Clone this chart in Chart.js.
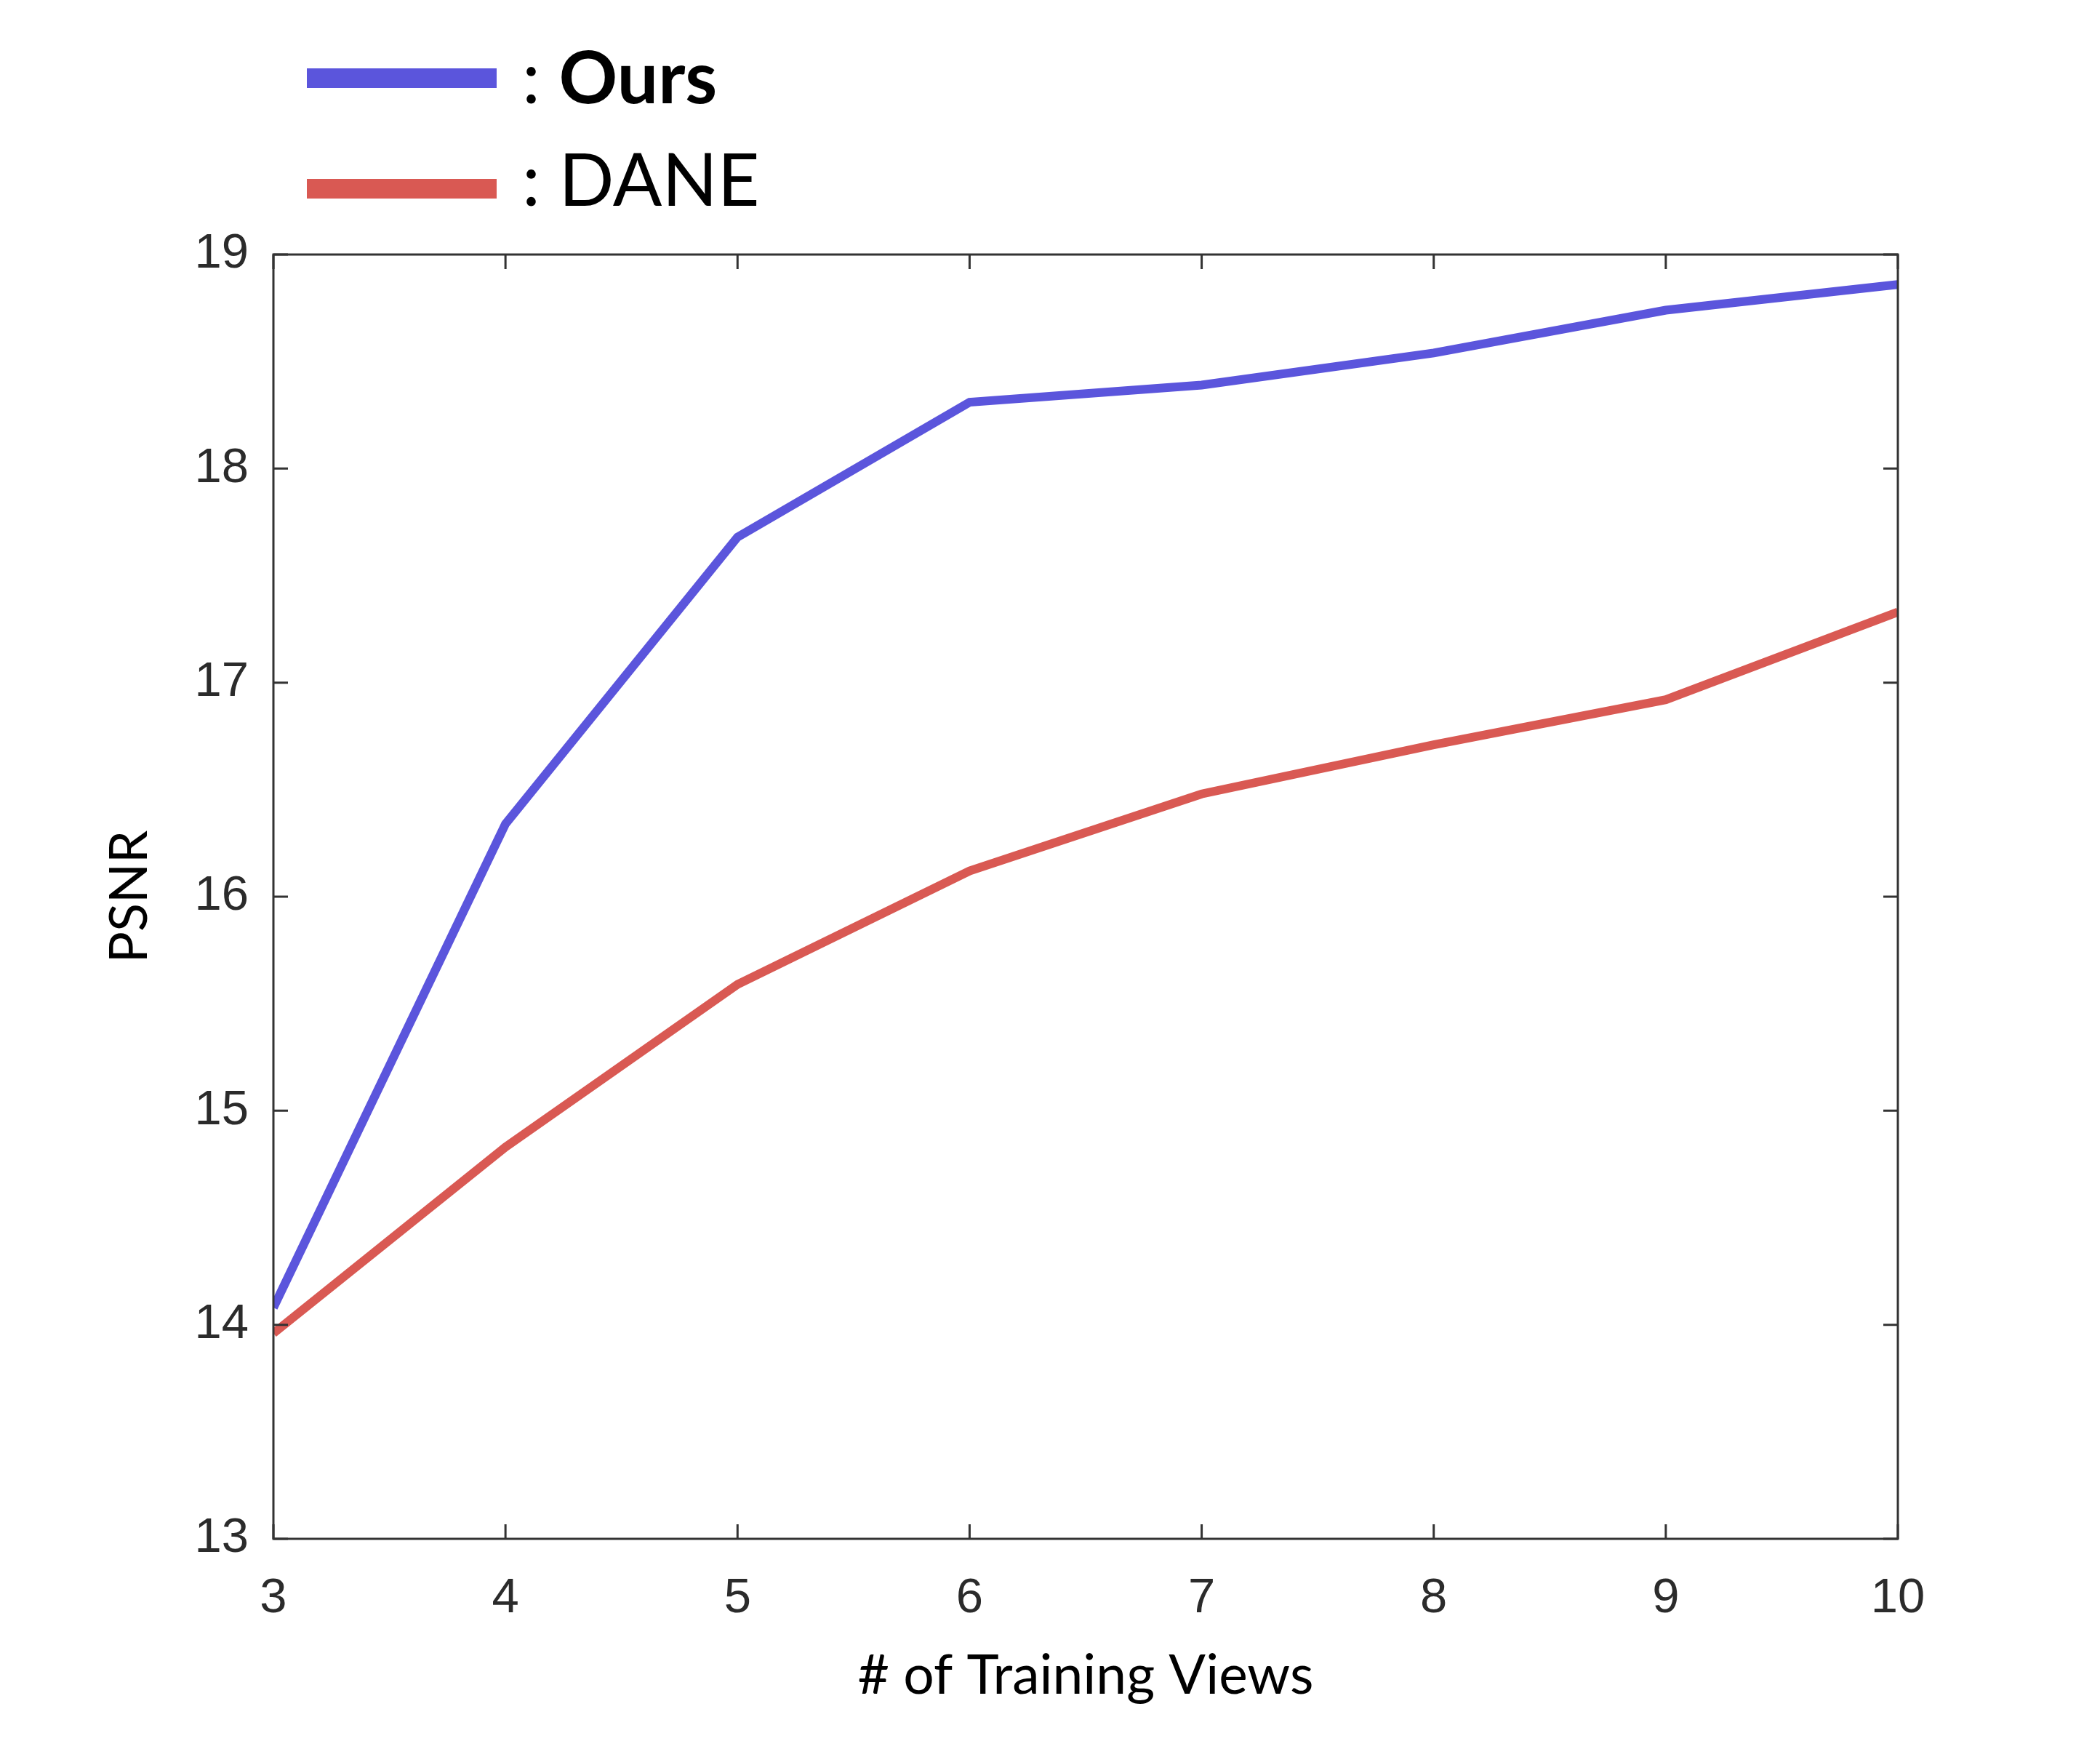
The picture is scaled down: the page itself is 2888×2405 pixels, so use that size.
<!DOCTYPE html>
<html>
<head>
<meta charset="utf-8">
<script src="https://cdn.jsdelivr.net/npm/chart.js@4"></script>
<style>
  html, body { margin: 0; padding: 0; background: #fff; }
  #wrap { position: relative; width: 2888px; height: 2405px; }
  #chart { position: absolute; left: 0; top: 0; }
  .swatch { position: absolute; left: 422px; width: 261px; height: 27px; }
  .lbl { position: absolute; left: 718px; font-family: Lato, sans-serif; font-size: 100px; line-height: 100px; color: #000; white-space: nowrap; }
</style>
</head>
<body>
<div id="wrap">
  <canvas id="chart" width="2888" height="2405"></canvas>
  <div class="swatch" id="swOurs" style="top:94px"></div>
  <div class="lbl" style="top:53px">: <b>Ours</b></div>
  <div class="swatch" id="swDane" style="top:246px"></div>
  <div class="lbl" style="top:194px">: DANE</div>
</div>
<script>
// values
const views = [3, 4, 5, 6, 7, 8, 9, 10];
const oursPsnr = [14.08, 16.34, 17.68, 18.31, 18.39, 18.54, 18.74, 18.86];
const danePsnr = [13.96, 14.83, 15.59, 16.12, 16.48, 16.71, 16.92, 17.33];
const yTicks = [13, 14, 15, 16, 17, 18, 19];

const blue = '#5b55dc';
const red = '#d95953';
document.getElementById('swOurs').style.background = blue;
document.getElementById('swDane').style.background = red;

// box round the plot with inward ticks on all four sides
const frame = {
  id: 'frame',
  afterDatasetsDraw(chart) {
    const { ctx, chartArea: a, scales: { x, y } } = chart;
    const len = 20;
    ctx.save();
    ctx.strokeStyle = '#333';
    ctx.lineWidth = 3;
    ctx.beginPath();
    x.ticks.forEach(t => {
      const px = x.getPixelForValue(t.value);
      ctx.moveTo(px, a.bottom); ctx.lineTo(px, a.bottom - len);
      ctx.moveTo(px, a.top); ctx.lineTo(px, a.top + len);
    });
    y.ticks.forEach(t => {
      const py = y.getPixelForValue(t.value);
      ctx.moveTo(a.left, py); ctx.lineTo(a.left + len, py);
      ctx.moveTo(a.right, py); ctx.lineTo(a.right - len, py);
    });
    ctx.stroke();
    ctx.strokeRect(a.left, a.top, a.right - a.left, a.bottom - a.top);
    ctx.restore();
  }
};

const tickFont = { family: 'Liberation Sans', size: 67 };

new Chart(document.getElementById('chart'), {
  type: 'line',
  data: {
    datasets: [
      {
        label: 'Ours',
        data: views.map((v, i) => ({ x: v, y: oursPsnr[i] })),
        borderColor: blue,
        borderWidth: 12
      },
      {
        label: 'DANE',
        data: views.map((v, i) => ({ x: v, y: danePsnr[i] })),
        borderColor: red,
        borderWidth: 12
      }
    ]
  },
  options: {
    responsive: false,
    animation: false,
    events: [],
    layout: { padding: { top: 350, right: 278, bottom: 0, left: 0 } },
    elements: { point: { radius: 0 }, line: { tension: 0, borderCapStyle: 'butt' } },
    plugins: { legend: { display: false }, tooltip: { enabled: false } },
    scales: {
      x: {
        type: 'linear',
        min: 3, max: 10,
        afterBuildTicks: s => { s.ticks = views.map(v => ({ value: v })); },
        afterFit: s => { s.height = 289; },
        grid: { display: false, drawTicks: false },
        border: { display: false },
        ticks: { font: tickFont, color: '#2b2b2b', padding: 42 },
        title: { display: true, text: '# of Training Views', font: { family: 'Lato', size: 75 }, color: '#000', padding: { top: 0, bottom: 55 } }
      },
      y: {
        min: 13, max: 19,
        afterBuildTicks: s => { s.ticks = yTicks.map(v => ({ value: v })); },
        afterFit: s => { s.width = 376; },
        grid: { display: false, drawTicks: false },
        border: { display: false },
        ticks: { font: tickFont, color: '#2b2b2b', padding: 34 },
        title: { display: true, text: 'PSNR', font: { family: 'Lato', size: 72 }, color: '#000', padding: { top: 136, bottom: 0 } }
      }
    }
  },
  plugins: [frame]
});
</script>
</body>
</html>
